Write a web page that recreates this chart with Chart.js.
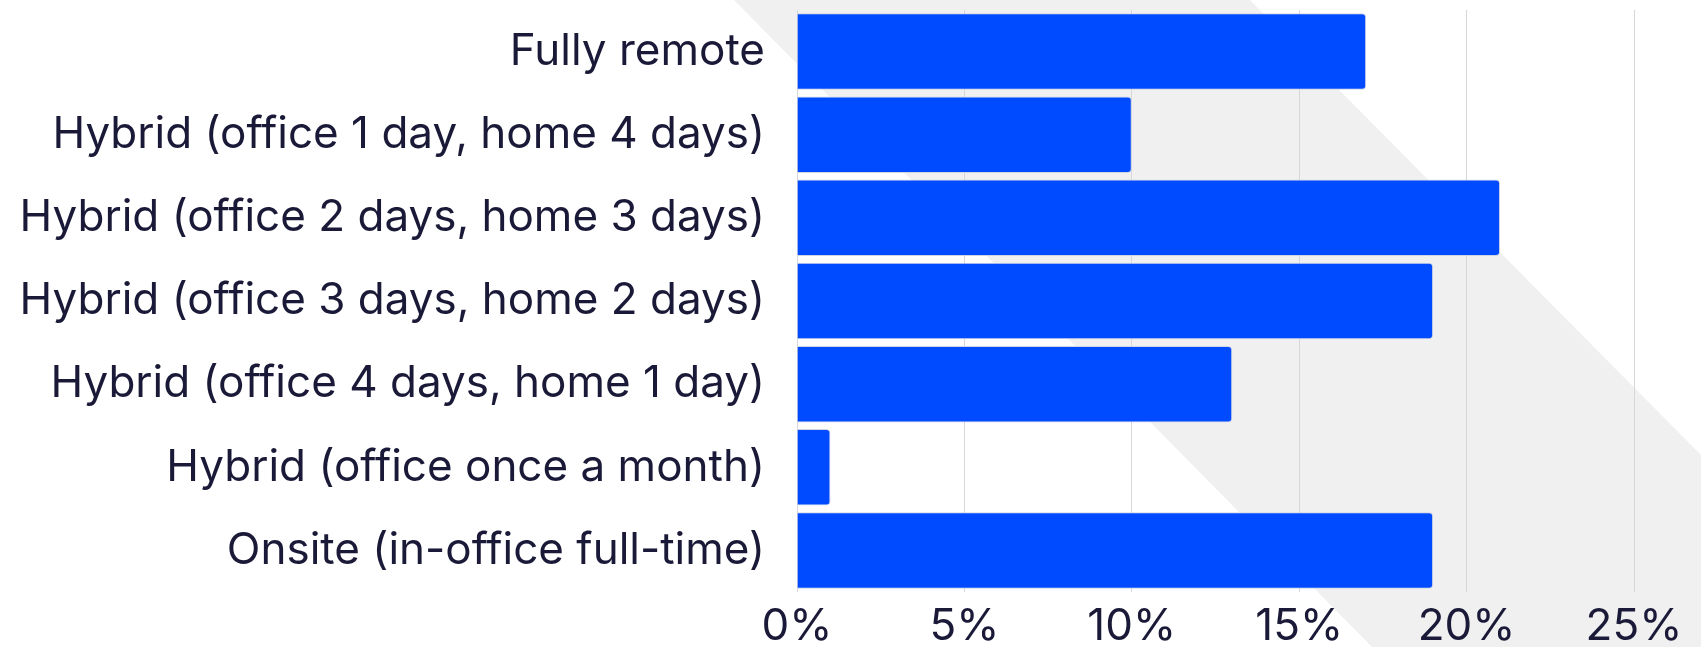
<!DOCTYPE html>
<html>
<head>
<meta charset="utf-8">
<script src="https://cdn.jsdelivr.net/npm/chart.js@4.4.1/dist/chart.umd.min.js"></script>
<style>
  html, body { margin: 0; padding: 0; background: #fff; }
  #wrap { width: 1701px; height: 647px; }
</style>
</head>
<body>
<div id="wrap"><canvas id="grafico" width="1701" height="647"></canvas></div>
<script>
// Dados do gráfico
const categorias = [
  'Fully remote',
  'Hybrid (office 1 day, home 4 days)',
  'Hybrid (office 2 days, home 3 days)',
  'Hybrid (office 3 days, home 2 days)',
  'Hybrid (office 4 days, home 1 day)',
  'Hybrid (office once a month)',
  'Onsite (in-office full-time)'
];
const valores = [17, 10, 21, 19, 13, 1, 19];
const ticksX = [0, 5, 10, 15, 20, 25];

const corTexto = '#1a1a38';
const fonte = 'Inter, "Noto Sans", sans-serif';

// Faixa diagonal cinza do fundo
const fundoDiagonal = {
  id: 'fundoDiagonal',
  beforeDraw(chart) {
    const { ctx, width, height } = chart;
    ctx.save();
    ctx.fillStyle = '#f0f0f1';
    ctx.beginPath();
    ctx.moveTo(734, 0);
    ctx.lineTo(1250, 0);
    ctx.lineTo(width, 455);
    ctx.lineTo(width, height);
    ctx.lineTo(1372, height);
    ctx.closePath();
    ctx.fill();
    ctx.restore();
  }
};

const ctx = document.getElementById('grafico').getContext('2d');
const grafico = new Chart(ctx, {
  type: 'bar',
  data: {
    labels: categorias,
    datasets: [{
      data: valores,
      backgroundColor: '#004bff',
      borderColor: '#d0d5e2',
      borderWidth: 1,
      borderRadius: 4,
      borderSkipped: 'start',
      categoryPercentage: 1,
      barPercentage: 0.92
    }]
  },
  options: {
    indexAxis: 'y',
    responsive: false,
    animation: false,
    layout: { padding: { top: 10, right: 67, bottom: 0, left: 0 } },
    plugins: {
      legend: { display: false },
      tooltip: { enabled: false }
    },
    scales: {
      x: {
        min: 0,
        max: 25,
        afterBuildTicks: (s) => { s.ticks = ticksX.map(v => ({ value: v })); },
        grid: { color: '#d6d6db', lineWidth: 1, drawTicks: false },
        border: { display: false },
        ticks: {
          padding: 14,
          color: corTexto,
          font: { family: fonte, size: 44, lineHeight: 0.93 },
          callback: (v) => v + '%'
        },
        afterFit: (s) => { s.height = 55; }
      },
      y: {
        grid: { display: true, drawOnChartArea: false, tickLength: 32, tickColor: 'transparent' },
        border: { display: false },
        ticks: {
          padding: 0,
          color: corTexto,
          font: { family: fonte, size: 44, lineHeight: 0.4 }
        },
        afterFit: (s) => {
          s.width = 797;
          s.paddingTop = 0;
          s.paddingBottom = 0;
        }
      }
    }
  },
  plugins: [fundoDiagonal]
});
</script>
</body>
</html>
